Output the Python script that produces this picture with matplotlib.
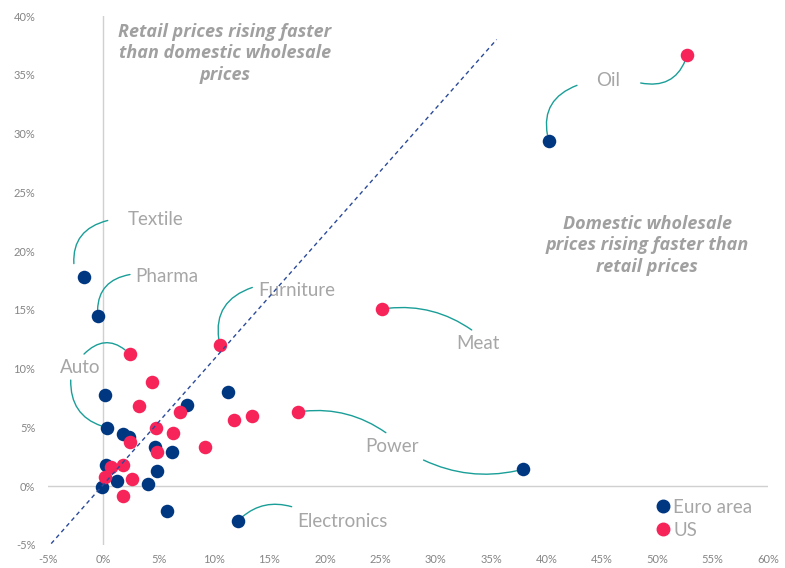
import matplotlib
matplotlib.use("Agg")
import matplotlib.pyplot as plt
from matplotlib.ticker import FuncFormatter, MultipleLocator
from matplotlib.lines import Line2D

plt.rcParams['font.family'] = ['Lato', 'DejaVu Sans']

# wholesale price change (x) vs retail price change (y), %
euro_x = [-1.74, -0.5, 0.18, 0.36, 1.8, 2.35, 7.53, 11.23, 4.67, 6.17,
          4.82, 0.24, 1.21, -0.08, 4.08, 5.75, 12.13, 40.2, 37.85]
euro_y = [17.76, 14.47, 7.74, 4.97, 4.43, 4.2, 6.92, 8.03, 3.35, 2.87,
          1.28, 1.76, 0.45, -0.05, 0.14, -2.16, -3.0, 29.4, 1.42]

us_x = [52.7, 25.15, 17.55, 10.53, 2.38, 4.37, 3.19, 6.95, 11.77, 13.39,
        4.73, 6.26, 2.38, 9.21, 4.82, 1.8, 0.67, 0.15, 2.62, 1.75]
us_y = [36.7, 15.06, 6.3, 11.97, 11.23, 8.88, 6.81, 6.33, 5.65, 5.98,
        4.96, 4.48, 3.77, 3.35, 2.89, 1.75, 1.6, 0.76, 0.57, -0.86]

diag_x = [-4.7, 35.5]
diag_y = [-4.9, 38.0]

NAVY = '#003781'
PINK = '#f62459'
TEAL = '#1a9e98'
GREY = '#a6a6a6'

fig = plt.figure(figsize=(7.85, 5.68), dpi=100)
ax = fig.add_axes([0.061, 0.0409, 0.9175, 0.9309])
ax.set_xlim(-5, 60)
ax.set_ylim(-5, 40)
for s in ax.spines.values():
    s.set_visible(False)
ax.axhline(0, color='#d0d0d0', lw=1, zorder=1)
ax.axvline(0, color='#d0d0d0', lw=1, zorder=1)

ax.xaxis.set_major_locator(MultipleLocator(5))
ax.yaxis.set_major_locator(MultipleLocator(5))
pct = FuncFormatter(lambda v, p: f'{v:.0f}%')
ax.xaxis.set_major_formatter(pct)
ax.yaxis.set_major_formatter(pct)
ax.tick_params(length=0, labelsize=8, labelcolor='#858585')
ax.tick_params(axis='x', pad=7)
ax.tick_params(axis='y', pad=9)

ax.scatter(euro_x, euro_y, s=95, color=NAVY, zorder=3, linewidths=0)
ax.scatter(us_x, us_y, s=95, color=PINK, zorder=4, linewidths=0)
ax.plot(diag_x, diag_y, color='#2a4a9a', lw=1, ls=(0, (3, 2.5)), zorder=5)

# annotation curves: (curve start near label, end, rad)
curves = [
    ((42.75, 34.1), (euro_x[17], euro_y[17]), 0.45),
    ((48.5, 34.3), (us_x[0], us_y[0]), 0.45),
    ((0.4, 22.6), (-2.6, 18.4), 0.45),
    ((2.41, 18.0), (euro_x[1], euro_y[1]), 0.45),
    ((13.45, 16.9), (us_x[3], us_y[3]), 0.45),
    ((33.25, 13.28), (us_x[1], us_y[1]), 0.2),
    ((25.5, 4.54), (us_x[2], us_y[2]), 0.2),
    ((28.9, 2.21), (euro_x[18], euro_y[18]), 0.18),
    ((-1.74, 11.23), (us_x[4], us_y[4]), -0.5),
    ((-2.94, 9.02), (euro_x[3], euro_y[3]), 0.4),
    ((17.0, -1.76), (euro_x[16], euro_y[16]), 0.3),
]
for start, end, rad in curves:
    ax.annotate('', xy=end, xytext=start,
                arrowprops=dict(arrowstyle='-', color=TEAL, lw=1,
                                shrinkA=0, shrinkB=4.5,
                                connectionstyle=f'arc3,rad={rad}'),
                zorder=2)

labels = [('Oil', 45.6, 34.55), ('Textile', 4.68, 22.64), ('Pharma', 5.76, 17.87),
          ('Furniture', 17.45, 16.68), ('Meat', 33.8, 12.09), ('Power', 26.08, 3.4),
          ('Auto', -2.1, 10.1), ('Electronics', 21.55, -2.98)]
for t, x, y in labels:
    ax.text(x, y, t, color=GREY, fontsize=13.5, ha='center', va='center')

note = dict(color='#a0a0a0', fontsize=13, fontweight='bold', fontstyle='italic',
            ha='center', va='center', linespacing=1.25,
            family=['Open Sans', 'DejaVu Sans'])
ax.text(10.98, 36.85, 'Retail prices rising faster\nthan domestic wholesale\nprices', **note)
ax.text(49.07, 20.5, 'Domestic wholesale\nprices rising faster than\nretail prices', **note)

handles = [Line2D([], [], marker='o', ls='', color=NAVY, markersize=9, label='Euro area'),
           Line2D([], [], marker='o', ls='', color=PINK, markersize=9, label='US')]
leg = ax.legend(handles=handles, loc='lower left', bbox_to_anchor=(0.828, -0.006),
                frameon=False, fontsize=13.5, handletextpad=0.05, handlelength=1.0,
                labelspacing=0.3, borderpad=0)
for txt in leg.get_texts():
    txt.set_color(GREY)

fig.savefig('out.png', dpi=100)
